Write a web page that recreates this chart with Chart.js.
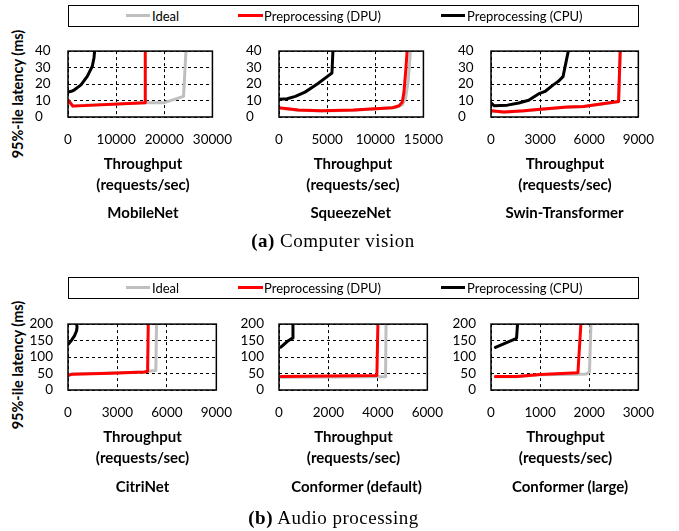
<!DOCTYPE html>
<html>
<head>
<meta charset="utf-8">
<script src="https://cdn.jsdelivr.net/npm/chart.js@4.4.1/dist/chart.umd.min.js"></script>
<style>
html,body{margin:0;padding:0;background:#fff;}
#wrap{position:relative;width:679px;height:531px;overflow:hidden;background:#fff;font-family:Lato,"Open Sans",sans-serif;color:#000;}
canvas{position:absolute;}
.t{position:absolute;white-space:nowrap;transform:translate(-50%,-50%);line-height:1;}
.bt{font-weight:bold;font-size:15px;}
.cap{font-family:"Liberation Serif",serif;font-size:19px;letter-spacing:0.5px;}
.ytitle{position:absolute;white-space:nowrap;font-weight:bold;font-size:14.5px;line-height:1;transform:translate(-50%,-50%) rotate(-90deg);}
.legbox{position:absolute;border:1px solid #000;box-sizing:border-box;background:#fff;}
.legline{position:absolute;height:3px;}
.legtxt{position:absolute;font-size:13px;line-height:1;white-space:nowrap;transform:translateY(-50%);}
</style>
</head>
<body>
<div id="wrap"></div>
<script>
// ---------------- data ----------------
const seriesNames = ["Ideal", "Preprocessing (DPU)", "Preprocessing (CPU)"];
const panelNames = ["MobileNet", "SqueezeNet", "Swin-Transformer", "CitriNet", "Conformer (default)", "Conformer (large)"];
const captionA = "Computer vision";
const captionB = "Audio processing";

// tick labels
const yTicksVision = [0, 10, 20, 30, 40];
const yTicksAudio = [0, 50, 100, 150, 200];
const xTicksMobileNet = [0, 10000, 20000, 30000];
const xTicksSqueezeNet = [0, 5000, 10000, 15000];
const xTicksSwin = [0, 3000, 6000, 9000];
const xTicksCitriNet = [0, 3000, 6000, 9000];
const xTicksConfDefault = [0, 2000, 4000, 6000];
const xTicksConfLarge = [0, 1000, 2000, 3000];

// [throughput (req/s), 95%-ile latency (ms)]
const mobileNetIdeal = [[0,10.3],[1000,6.8],[16000,8.6],[20000,8.7],[24000,12.5],[24500,40]];
const mobileNetDPU   = [[0,10.3],[1000,6.6],[16000,8.6],[16050,40]];
const mobileNetCPU   = [[0,15.1],[700,15.6],[1350,16.5],[2700,19.5],[4000,24.7],[5050,30.8],[5400,36],[5530,40]];

const squeezeNetIdeal = [[0,5.3],[2000,4.1],[4400,3.6],[7800,4.1],[12100,5.7],[12800,7.3],[13150,11.6],[13420,22],[13650,40]];
const squeezeNetDPU   = [[0,5.6],[2000,4.3],[4400,3.8],[7750,4.3],[11800,5.6],[12470,6.8],[12800,9],[12980,15.1],[13150,27.3],[13310,40]];
const squeezeNetCPU   = [[0,10.8],[850,11.1],[1700,12.5],[2700,15.1],[4050,20.3],[5000,24.5],[5500,26.7],[5600,40]];

const swinIdeal = [[0,3.6],[800,2.9],[2000,3.6],[3000,4.5],[4650,5.9],[5650,6.2],[6270,7.1],[7800,9.2],[7900,40]];
const swinDPU   = [[0,3.8],[800,3.0],[2000,3.8],[3000,4.7],[4650,6.1],[5650,6.4],[6270,7.3],[7790,9.4],[7890,40]];
const swinCPU   = [[0,8.5],[200,6.8],[1000,7.2],[1700,8.5],[2300,10.2],[2900,14],[3300,15.5],[3800,19.5],[4100,21.5],[4400,24.5],[4720,40]];

const citriNetIdeal = [[0,45],[250,48.5],[2600,51.5],[4650,55],[4850,57],[5330,59],[5370,200]];
const citriNetDPU   = [[0,44],[250,48],[2600,51],[4650,54.5],[4830,57],[4870,200]];
const citriNetCPU   = [[40,140],[200,150],[400,165],[520,180],[550,192],[500,205]];

const confDefaultIdeal = [[70,39],[2000,39.5],[4000,40],[4310,40],[4330,200]];
const confDefaultDPU   = [[70,41],[2000,42.5],[3960,44],[4000,200]];
const confDefaultCPU   = [[75,130],[330,147],[550,158],[565,200]];

const confLargeIdeal = [[90,40],[520,40],[1000,46],[1800,48],[1940,48.5],[2005,55],[2035,200]];
const confLargeDPU   = [[90,41],[520,41],[1000,47],[1770,52.5],[1830,200]];
const confLargeCPU   = [[90,129],[520,157],[540,200]];

// ---------------- layout ----------------
const colsX = [[68,217],[279,428],[491,639]];
const rowsY = [[40,117],[313,390]];
const colors = {ideal:'#BFBFBF', dpu:'#FF0000', cpu:'#000000'};

const panels = [
  {row:0,col:0,xt:xTicksMobileNet,yt:yTicksVision,d:[mobileNetIdeal,mobileNetDPU,mobileNetCPU]},
  {row:0,col:1,xt:xTicksSqueezeNet,yt:yTicksVision,d:[squeezeNetIdeal,squeezeNetDPU,squeezeNetCPU]},
  {row:0,col:2,xt:xTicksSwin,yt:yTicksVision,d:[swinIdeal,swinDPU,swinCPU]},
  {row:1,col:0,xt:xTicksCitriNet,yt:yTicksAudio,d:[citriNetIdeal,citriNetDPU,citriNetCPU]},
  {row:1,col:1,xt:xTicksConfDefault,yt:yTicksAudio,d:[confDefaultIdeal,confDefaultDPU,confDefaultCPU]},
  {row:1,col:2,xt:xTicksConfLarge,yt:yTicksAudio,d:[confLargeIdeal,confLargeDPU,confLargeCPU]}
];

const wrap = document.getElementById('wrap');

const boxPlugin = {
  id:'box',
  afterDraw(chart){
    const {ctx, chartArea:a} = chart;
    ctx.save();
    ctx.strokeStyle = '#000';
    ctx.lineWidth = 1.5;
    ctx.strokeRect(a.left, a.top, a.right - a.left, a.bottom - a.top);
    ctx.restore();
  }
};

const tickFont = {family:'Lato', size:13.5};

panels.forEach((p, i) => {
  const [l, r] = colsX[p.col];
  const [t, b] = rowsY[p.row];
  const cl = l - 40, ct = t - 12;
  const cw = (r - l) + 70, ch = (b - t) + 52;
  const cv = document.createElement('canvas');
  cv.width = cw; cv.height = ch;
  cv.style.left = cl + 'px'; cv.style.top = ct + 'px';
  cv.style.width = cw + 'px'; cv.style.height = ch + 'px';
  wrap.appendChild(cv);
  const topRow = p.row === 0;
  const mk = (arr, col, label) => ({
    label, data: arr.map(([x, y]) => ({x, y})), showLine:true, borderColor:col, backgroundColor:col,
    borderWidth:3, pointRadius:0, pointHoverRadius:0, tension:0, fill:false,
    borderJoinStyle:'round', borderCapStyle:'round'
  });
  new Chart(cv, {
    type:'scatter',
    data:{datasets:[
      mk(p.d[2], colors.cpu, seriesNames[2]),
      mk(p.d[1], colors.dpu, seriesNames[1]),
      mk(p.d[0], colors.ideal, seriesNames[0])
    ]},
    options:{
      responsive:false, animation:false, devicePixelRatio:1,
      events:[],
      layout:{padding:{left: topRow ? 7 : 0, top:12, right:30, bottom:0}},
      plugins:{legend:{display:false}, tooltip:{enabled:false}, title:{display:false}},
      scales:{
        x:{
          type:'linear', min:p.xt[0], max:p.xt[p.xt.length-1],
          afterBuildTicks: ax => { ax.ticks = p.xt.map(v => ({value:v})); },
          afterFit: s => { s.height = 40; },
          grid:{color:'#000', lineWidth:1, drawTicks:false},
          border:{display:false, dash:[3,3]},
          ticks:{color:'#000', font:tickFont, padding:15, maxRotation:0, autoSkip:false, callback: v => String(v)}
        },
        y:{
          type:'linear', min:p.yt[0], max:p.yt[p.yt.length-1],
          afterBuildTicks: ax => { ax.ticks = p.yt.map(v => ({value:v})); },
          afterFit: s => { s.width = topRow ? 33 : 40; },
          grid:{color:'#000', lineWidth:1, drawTicks:false},
          border:{display:false, dash:[3,3]},
          ticks:{color:'#000', font:tickFont, padding:15, autoSkip:false, crossAlign: topRow ? 'far' : 'near', callback: v => String(v)}
        }
      }
    },
    plugins:[boxPlugin]
  });
});

// ---------------- text ----------------
function txt(html, cx, cy, cls){
  const d = document.createElement('div');
  d.className = 't ' + (cls || '');
  d.innerHTML = html;
  d.style.left = cx + 'px'; d.style.top = cy + 'px';
  wrap.appendChild(d);
}
const nameX = [[143,350.7,564.5],[142.5,356.5,570]];
const thrX = [[143,353,565],[142.5,353.5,565.5]];
const rowText = [{thr:163,req:184,name:211.5,cap:240},{thr:435.5,req:457,name:486,cap:517}];
[0,1].forEach(row => {
  for (let c = 0; c < 3; c++){
    txt('Throughput', thrX[row][c], rowText[row].thr, 'bt');
    txt('(requests/sec)', thrX[row][c], rowText[row].req, 'bt');
    txt(panelNames[row*3 + c], nameX[row][c], rowText[row].name, 'bt');
  }
  const yt = document.createElement('div');
  yt.className = 'ytitle';
  yt.textContent = '95%-ile latency (ms)';
  yt.style.left = '18px'; yt.style.top = (row === 0 ? 94 : 365) + 'px';
  wrap.appendChild(yt);
  // legend
  const ly = row === 0 ? 5 : 277;
  const lb = document.createElement('div');
  lb.className = 'legbox';
  lb.style.left = '68px'; lb.style.top = ly + 'px'; lb.style.width = '571px'; lb.style.height = '22px';
  wrap.appendChild(lb);
  const cy = ly + 10.5;
  const items = [[126,150,152,colors.ideal,seriesNames[0]],[238,263,264,colors.dpu,seriesNames[1]],[441,465,467,colors.cpu,seriesNames[2]]];
  items.forEach(([x1,x2,tx,col,label]) => {
    const ln = document.createElement('div');
    ln.className = 'legline';
    ln.style.left = x1 + 'px'; ln.style.width = (x2 - x1) + 'px';
    ln.style.top = (cy - 1.5) + 'px'; ln.style.background = col;
    wrap.appendChild(ln);
    const tt = document.createElement('div');
    tt.className = 'legtxt';
    tt.textContent = label;
    tt.style.left = tx + 'px'; tt.style.top = cy + 'px';
    wrap.appendChild(tt);
  });
});
txt('<b>(a)</b> ' + captionA, 333, 240, 'cap');
txt('<b>(b)</b> ' + captionB, 333.5, 517, 'cap');
</script>
</body>
</html>
